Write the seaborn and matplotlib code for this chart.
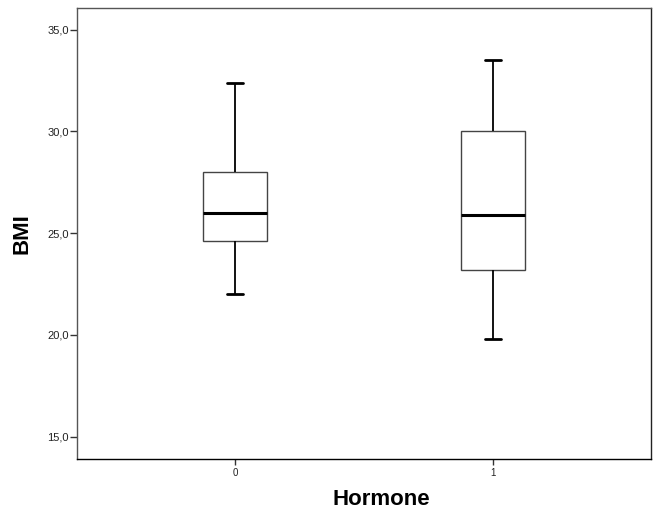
import matplotlib
matplotlib.use("Agg")
import matplotlib.pyplot as plt
from matplotlib.ticker import FuncFormatter, FixedLocator
import seaborn as sns
import pandas as pd

# Five-number summaries per hormone group (min, Q1, median, Q3, max)
hormone_0_bmi = [22.0, 24.6, 26.0, 28.0, 32.4]
hormone_1_bmi = [19.8, 23.2, 25.9, 30.0, 33.5]
group_labels = ["0", "1"]
y_ticks = [15.0, 20.0, 25.0, 30.0, 35.0]

df = pd.DataFrame({
    "Hormone": [group_labels[0]] * len(hormone_0_bmi) + [group_labels[1]] * len(hormone_1_bmi),
    "BMI": hormone_0_bmi + hormone_1_bmi,
})

sns.set_style("white")
plt.rcParams["font.family"] = ["Liberation Sans", "DejaVu Sans"]

fig = plt.figure(figsize=(6.54, 5.15), dpi=100)
ax = fig.add_axes([77 / 654, 1 - 459.3 / 515, (651 - 77) / 654, (459.3 - 7.7) / 515])

sns.boxplot(
    data=df, x="Hormone", y="BMI", order=group_labels, ax=ax,
    width=0.25, color="white", linecolor="#333333", linewidth=1.0,
    whis=1.5, capwidths=0.065,
    medianprops={"color": "black", "linewidth": 2.2},
    whiskerprops={"color": "black", "linewidth": 1.3},
    capprops={"color": "black", "linewidth": 2.0},
    boxprops={"edgecolor": "#444444", "linewidth": 1.0},
    showfliers=False,
)

ax.set_xlim(-0.612, 1.612)
ax.set_ylim(13.89, 36.08)
ax.yaxis.set_major_locator(FixedLocator(y_ticks))
ax.yaxis.set_major_formatter(FuncFormatter(lambda v, _: f"{v:.1f}".replace(".", ",")))

for side in ["left", "top", "right", "bottom"]:
    ax.spines[side].set_visible(True)
    ax.spines[side].set_linewidth(1.0)
ax.spines["left"].set_color("#555555")
ax.spines["top"].set_color("#555555")
ax.spines["right"].set_color("#222222")
ax.spines["bottom"].set_color("black")

ax.tick_params(axis="y", which="major", left=True, length=5, width=1, pad=1,
               labelsize=8, color="#333333", labelcolor="#222222")
ax.tick_params(axis="x", which="major", bottom=True, length=4, width=1, pad=2,
               labelsize=7, color="#333333", labelcolor="#222222")

ax.set_xlabel("Hormone", fontsize=16, fontweight="bold", color="black")
ax.set_ylabel("BMI", fontsize=16, fontweight="bold", color="black")
ax.xaxis.set_label_coords((381 - 77) / 574, -0.065)
ax.yaxis.set_label_coords(-0.078, 0.5)

fig.savefig("out.png", dpi=100)
